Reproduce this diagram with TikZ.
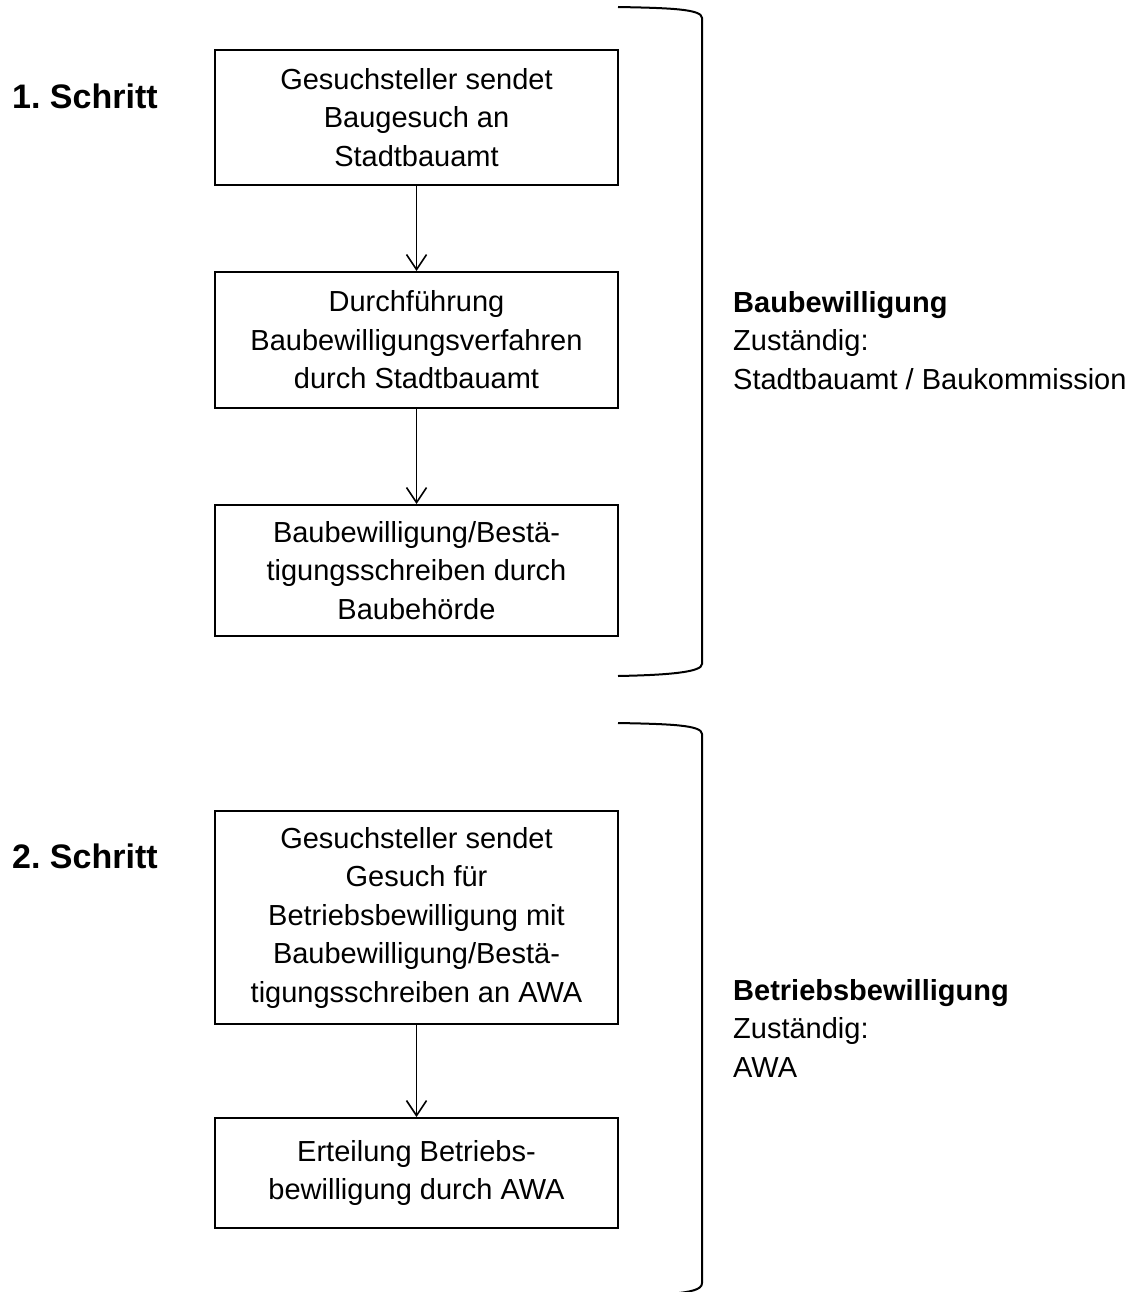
\documentclass[tikz,border=0pt]{standalone}
\usepackage{fontspec}
\setmainfont{Liberation Sans}
\usetikzlibrary{arrows.meta}
\frenchspacing
\begin{document}
\begin{tikzpicture}[x=1pt,y=-1pt,
  every node/.style={font=\fontsize{29}{38.5}\selectfont},
  procbox/.style={draw, line width=2pt, minimum width=403pt, align=center, inner sep=0pt},
  flow/.style={line width=1.6pt, -{Straight Barb[length=15pt,width=20pt,line width=1.6pt]}},
  brack/.style={line width=2pt},
  steplabel/.style={font=\fontsize{34}{40}\selectfont\bfseries, anchor=base west, inner sep=0pt},
  sidelabel/.style={anchor=north west, align=left, inner sep=0pt}]
\useasboundingbox (0,0) rectangle (1137,1292);

% boxes
\node[procbox, minimum height=135pt] (b1) at (416.5,117.5) {Gesuchsteller sendet\\Baugesuch an\\Stadtbauamt};
\node[procbox, minimum height=136pt] (b2) at (416.5,340) {Durchführung\\Baubewilligungsverfahren\\durch Stadtbauamt};
\node[procbox, minimum height=131pt] (b3) at (416.5,570.5) {Baubewilligung/Bestä-\\tigungsschreiben durch\\Baubehörde};
\node[procbox, minimum height=213pt] (b4) at (416.5,917.5) {Gesuchsteller sendet\\Gesuch für\\Betriebsbewilligung mit\\Baubewilligung/Bestä-\\tigungsschreiben an AWA};
\node[procbox, minimum height=110pt] (b5) at (416.5,1173) {Erteilung Betriebs-\\bewilligung durch AWA};

% arrows
\draw[flow] (b1.south) -- (b2.north);
\draw[flow] (b2.south) -- (b3.north);
\draw[flow] (b4.south) -- (b5.north);

% step labels
\node[steplabel] (s1) at (12,109) {1. Schritt};
\node[steplabel] (s2) at (12,868) {2. Schritt};

% brackets
\draw[brack] (618,7) .. controls (670,8) and (702,9) .. (702,18) -- (702,664) .. controls (702,672) and (670,675) .. (618,676);
\draw[brack] (618,723) .. controls (670,724) and (702,725) .. (702,734) -- (702,1283) .. controls (702,1290) and (690,1292) .. (670,1294);

% side labels
\node[sidelabel] (l1) at (733,291) {\textbf{Baubewilligung}\\Zuständig:\\Stadtbauamt / Baukommission};
\node[sidelabel] (l2) at (733,979) {\textbf{Betriebsbewilligung}\\Zuständig:\\AWA};
\end{tikzpicture}
\end{document}
